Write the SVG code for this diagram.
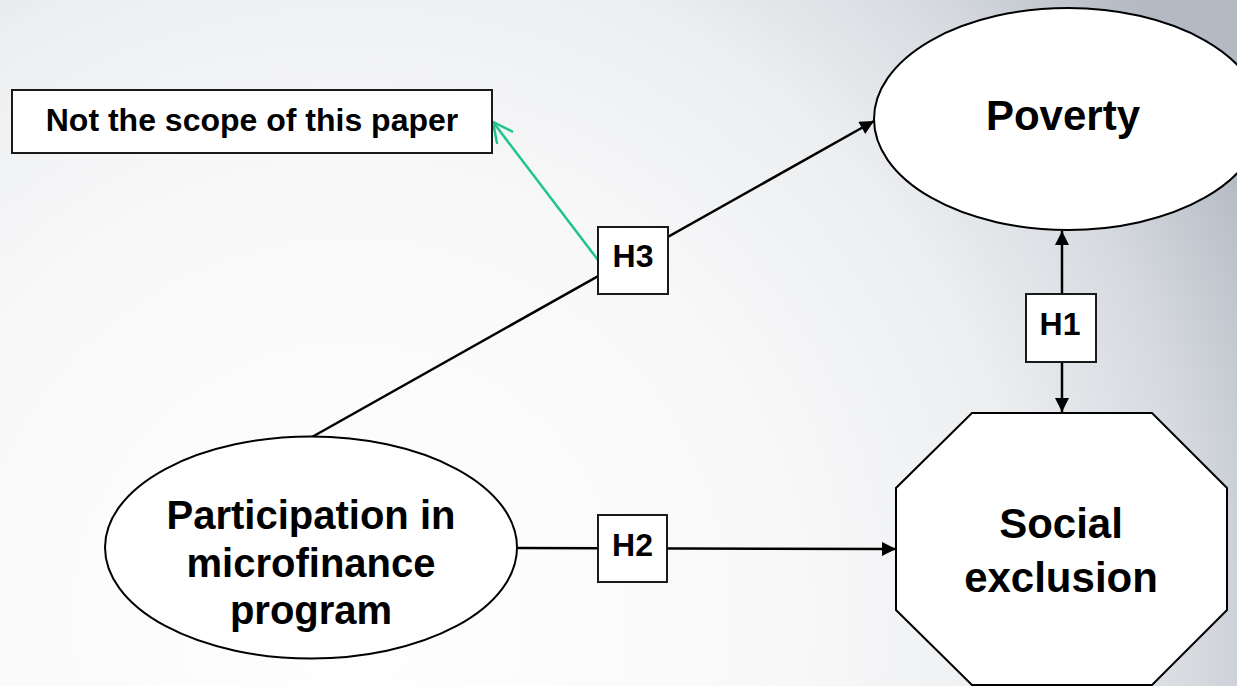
<svg xmlns="http://www.w3.org/2000/svg" width="1237" height="686" viewBox="0 0 1237 686">
<style>
.shape{fill:#ffffff;stroke:#000000;stroke-width:2}
.box{fill:#ffffff;stroke:#1a1a1a;stroke-width:2}
.lbl{font-family:"Liberation Sans",Arial,sans-serif;font-weight:bold;fill:#000000;text-anchor:middle}
.conn{stroke:#000000;stroke-width:2.5;fill:none}
.green{stroke:#1fc48c;stroke-width:2.5;fill:none}
</style>
<defs>
<radialGradient id="bg" gradientUnits="userSpaceOnUse" cx="350" cy="620" r="1000">
<stop offset="0" stop-color="#ffffff"/>
<stop offset="0.45" stop-color="#f8f8f9"/>
<stop offset="0.68" stop-color="#eceef0"/>
<stop offset="0.85" stop-color="#d6dadf"/>
<stop offset="1" stop-color="#b3bac3"/>
</radialGradient>
<marker id="arr" viewBox="0 0 10 10" refX="10" refY="5" markerUnits="userSpaceOnUse" markerWidth="17" markerHeight="14" orient="auto">
<path d="M0,0 L10,5 L0,10 z" fill="#000000"/>
</marker>
<marker id="open" viewBox="0 0 22 22" refX="21" refY="11" markerUnits="userSpaceOnUse" markerWidth="22" markerHeight="22" orient="auto">
<path d="M1,1 L21,11 L1,21" fill="none" stroke="#1fc48c" stroke-width="2.5"/>
</marker>
</defs>
<rect x="0" y="0" width="1237" height="686" fill="url(#bg)"/>
<g id="connectors">
<line class="conn" x1="312" y1="437" x2="874" y2="121" marker-end="url(#arr)"/>
<line class="green" x1="598" y1="260" x2="493" y2="122" marker-end="url(#open)"/>
<line class="conn" x1="1062" y1="294" x2="1062" y2="231" marker-end="url(#arr)"/>
<line class="conn" x1="1062" y1="362" x2="1062" y2="412" marker-end="url(#arr)"/>
<line class="conn" x1="518" y1="548" x2="896" y2="549" marker-end="url(#arr)"/>
</g>
<g id="scope">
<rect class="box" x="12" y="90" width="480" height="63"/>
<text class="lbl" x="252" y="131" font-size="32">Not the scope of this paper</text>
</g>
<g id="poverty">
<ellipse class="shape" cx="1068" cy="119" rx="194" ry="111"/>
<text class="lbl" x="1063" y="130" font-size="42">Poverty</text>
</g>
<g id="participation">
<ellipse class="shape" cx="311" cy="547.5" rx="206" ry="111"/>
<text class="lbl" font-size="40"><tspan x="311" y="529">Participation in</tspan><tspan x="311" y="576.5">microfinance</tspan><tspan x="311" y="624">program</tspan></text>
</g>
<g id="social">
<polygon class="shape" points="972,413 1152,413 1227,488 1227,610 1152,685 972,685 896,610 896,488"/>
<text class="lbl" font-size="42"><tspan x="1061" y="538">Social</tspan><tspan x="1061" y="592">exclusion</tspan></text>
</g>
<g id="h3">
<rect class="box" x="598" y="227" width="70" height="67"/>
<text class="lbl" x="633" y="267" font-size="32">H3</text>
</g>
<g id="h1">
<rect class="box" x="1026" y="294" width="70" height="68"/>
<text class="lbl" x="1060" y="335" font-size="32">H1</text>
</g>
<g id="h2">
<rect class="box" x="598" y="515" width="69" height="67"/>
<text class="lbl" x="632.5" y="556" font-size="32">H2</text>
</g>
</svg>
